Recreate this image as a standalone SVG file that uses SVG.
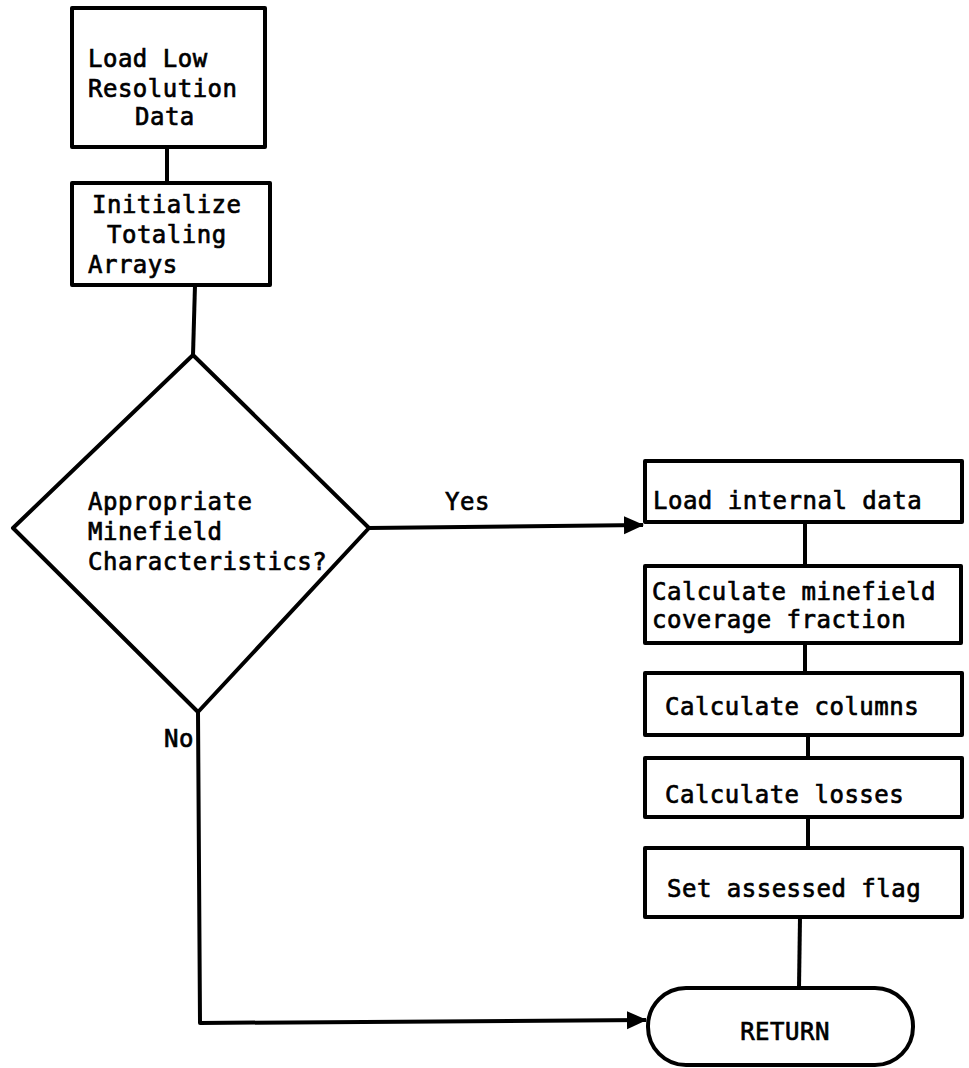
<svg xmlns="http://www.w3.org/2000/svg" width="969" height="1068" viewBox="0 0 969 1068">
  <defs>
    <style>
      .box { fill: #fff; stroke: #000; stroke-width: 4; stroke-linejoin: round; }
      .link { fill: none; stroke: #000; stroke-width: 4; stroke-linejoin: round; }
      .lbl { font-family: "DejaVu Sans Mono", "Liberation Mono", monospace; font-size: 24px; letter-spacing: 0.5px; fill: #000; stroke: #000; stroke-width: 0.7px; }
    </style>
    <marker id="arrow" viewBox="0 0 20 20" refX="19" refY="10" markerWidth="20" markerHeight="20" markerUnits="userSpaceOnUse" orient="auto">
      <path d="M0,1 L20,10 L0,19 Z" fill="#000"/>
    </marker>
  </defs>
  <rect width="969" height="1068" fill="#fff"/>

  <!-- connectors -->
  <g id="connectors">
    <line class="link" x1="167" y1="147" x2="167" y2="183"/>
    <line class="link" x1="195" y1="285" x2="193" y2="355"/>
    <path class="link" d="M369,528 L643,525" marker-end="url(#arrow)"/>
    <text class="lbl" x="445" y="510">Yes</text>
    <path class="link" d="M198,712 L200,1023 L646,1020" marker-end="url(#arrow)"/>
    <text class="lbl" x="164" y="747">No</text>
    <line class="link" x1="805" y1="522" x2="805" y2="566"/>
    <line class="link" x1="805" y1="643" x2="805" y2="673"/>
    <line class="link" x1="808" y1="735" x2="808" y2="758"/>
    <line class="link" x1="808" y1="817" x2="808" y2="848"/>
    <line class="link" x1="800" y1="917" x2="799" y2="988"/>
  </g>

  <g id="load-low-res">
    <rect class="box" x="72" y="8" width="193" height="139"/>
    <text class="lbl" x="88" y="67">Load Low</text>
    <text class="lbl" x="88" y="97">Resolution</text>
    <text class="lbl" x="135" y="125">Data</text>
  </g>

  <g id="init-arrays">
    <rect class="box" x="72" y="183" width="198" height="102"/>
    <text class="lbl" x="92" y="213">Initialize</text>
    <text class="lbl" x="107" y="243">Totaling</text>
    <text class="lbl" x="88" y="273">Arrays</text>
  </g>

  <g id="decision">
    <path class="box" d="M193,355 L369,528 L198,712 L13,528 Z"/>
    <text class="lbl" x="88" y="510">Appropriate</text>
    <text class="lbl" x="88" y="540">Minefield</text>
    <text class="lbl" x="88" y="570">Characteristics?</text>
  </g>

  <g id="load-internal">
    <rect class="box" x="645" y="461" width="317" height="61"/>
    <text class="lbl" x="653" y="509">Load internal data</text>
  </g>

  <g id="coverage">
    <rect class="box" x="645" y="566" width="316" height="77"/>
    <text class="lbl" x="652" y="600">Calculate minefield</text>
    <text class="lbl" x="652" y="628">coverage fraction</text>
  </g>

  <g id="columns">
    <rect class="box" x="645" y="673" width="317" height="62"/>
    <text class="lbl" x="665" y="715">Calculate columns</text>
  </g>

  <g id="losses">
    <rect class="box" x="645" y="758" width="317" height="59"/>
    <text class="lbl" x="665" y="803">Calculate losses</text>
  </g>

  <g id="assessed-flag">
    <rect class="box" x="645" y="848" width="317" height="69"/>
    <text class="lbl" x="667" y="897">Set assessed flag</text>
  </g>

  <g id="return">
    <rect class="box" x="648" y="988" width="265" height="77" rx="38" ry="38"/>
    <text class="lbl" x="785" y="1040" text-anchor="middle">RETURN</text>
  </g>
</svg>
